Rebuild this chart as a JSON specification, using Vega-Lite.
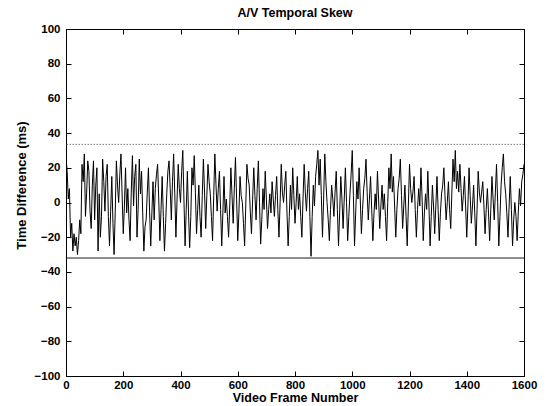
{
  "$schema": "https://vega.github.io/schema/vega-lite/v6.json",
  "width": 458,
  "height": 347,
  "autosize": {"type": "none"},
  "padding": {"left": 66, "top": 29, "right": 30, "bottom": 30},
  "background": "white",
  "title": {"text": "A/V Temporal Skew", "fontSize": 12.5, "fontWeight": "bold", "font": "Liberation Sans", "color": "black", "offset": 4},
  "config": {
    "view": {"stroke": "black", "strokeWidth": 1},
    "axis": {"domainColor": "black", "tickColor": "black", "labelColor": "black", "titleColor": "black", "grid": false,
      "labelFont": "Liberation Sans", "labelFontSize": 11.5, "labelFontWeight": "bold",
      "titleFont": "Liberation Sans", "titleFontSize": 13, "titleFontWeight": "bold", "tickSize": -5}
  },
  "resolve": {"axis": {"x": "independent", "y": "independent"}},
  "datasets": {
    "skew": [
      {"frame":0,"value":26},{"frame":4,"value":18},{"frame":8,"value":2},{"frame":12,"value":8},{"frame":16,"value":-20},{"frame":20,"value":-12},{"frame":24,"value":-28},{"frame":28,"value":-18},{"frame":32,"value":-25},{"frame":36,"value":-20},{"frame":40,"value":-30},{"frame":44,"value":-22},{"frame":48,"value":-10},{"frame":52,"value":-18},{"frame":56,"value":22},{"frame":60,"value":12},{"frame":64,"value":28},{"frame":68,"value":-8},{"frame":72,"value":5},{"frame":76,"value":24},{"frame":80,"value":18},{"frame":84,"value":-5},{"frame":88,"value":-15},{"frame":92,"value":10},{"frame":96,"value":24},{"frame":100,"value":-10},{"frame":104,"value":10},{"frame":108,"value":20},{"frame":112,"value":-28},{"frame":116,"value":5},{"frame":120,"value":-20},{"frame":124,"value":-8},{"frame":128,"value":25},{"frame":132,"value":12},{"frame":136,"value":-5},{"frame":140,"value":15},{"frame":144,"value":22},{"frame":148,"value":-8},{"frame":152,"value":-25},{"frame":156,"value":-5},{"frame":160,"value":15},{"frame":164,"value":-12},{"frame":168,"value":-30},{"frame":172,"value":-5},{"frame":176,"value":24},{"frame":180,"value":10},{"frame":184,"value":0},{"frame":188,"value":16},{"frame":192,"value":28},{"frame":196,"value":5},{"frame":200,"value":-18},{"frame":204,"value":-2},{"frame":208,"value":20},{"frame":212,"value":-6},{"frame":216,"value":8},{"frame":220,"value":-10},{"frame":224,"value":-22},{"frame":228,"value":6},{"frame":232,"value":27},{"frame":236,"value":-2},{"frame":240,"value":15},{"frame":244,"value":22},{"frame":248,"value":-20},{"frame":252,"value":-4},{"frame":256,"value":25},{"frame":260,"value":5},{"frame":264,"value":18},{"frame":268,"value":-6},{"frame":272,"value":-28},{"frame":276,"value":-14},{"frame":280,"value":-10},{"frame":284,"value":6},{"frame":288,"value":20},{"frame":292,"value":-5},{"frame":296,"value":-25},{"frame":300,"value":-6},{"frame":304,"value":12},{"frame":308,"value":-10},{"frame":312,"value":8},{"frame":316,"value":16},{"frame":320,"value":22},
      {"frame":324,"value":2},{"frame":328,"value":-22},{"frame":332,"value":-4},{"frame":336,"value":15},{"frame":340,"value":-8},{"frame":344,"value":-28},{"frame":348,"value":-12},{"frame":352,"value":5},{"frame":356,"value":18},{"frame":360,"value":24},{"frame":364,"value":8},{"frame":368,"value":-10},{"frame":372,"value":12},{"frame":376,"value":28},{"frame":380,"value":5},{"frame":384,"value":-20},{"frame":388,"value":2},{"frame":392,"value":22},{"frame":396,"value":8},{"frame":400,"value":0},{"frame":404,"value":18},{"frame":408,"value":30},{"frame":412,"value":2},{"frame":416,"value":-25},{"frame":420,"value":-4},{"frame":424,"value":18},{"frame":428,"value":-6},{"frame":432,"value":-26},{"frame":436,"value":-8},{"frame":440,"value":20},{"frame":444,"value":10},{"frame":448,"value":27},{"frame":452,"value":6},{"frame":456,"value":-18},{"frame":460,"value":-4},{"frame":464,"value":10},{"frame":468,"value":-8},{"frame":472,"value":-20},{"frame":476,"value":4},{"frame":480,"value":25},{"frame":484,"value":6},{"frame":488,"value":-15},{"frame":492,"value":4},{"frame":496,"value":22},{"frame":500,"value":12},{"frame":504,"value":5},{"frame":508,"value":-8},{"frame":512,"value":-22},{"frame":516,"value":4},{"frame":520,"value":28},{"frame":524,"value":10},{"frame":528,"value":-5},{"frame":532,"value":8},{"frame":536,"value":18},{"frame":540,"value":-4},{"frame":544,"value":-25},{"frame":548,"value":-6},{"frame":552,"value":15},{"frame":556,"value":-6},{"frame":560,"value":2},{"frame":564,"value":-8},{"frame":568,"value":-20},{"frame":572,"value":-2},{"frame":576,"value":20},{"frame":580,"value":4},{"frame":584,"value":-12},{"frame":588,"value":8},{"frame":592,"value":26},{"frame":596,"value":2},{"frame":600,"value":-22},{"frame":604,"value":-6},{"frame":608,"value":15},{"frame":612,"value":4},{"frame":616,"value":0},{"frame":620,"value":-12},{"frame":624,"value":-25},{"frame":628,"value":-2},{"frame":632,"value":22},{"frame":636,"value":14},{"frame":640,"value":10},
      {"frame":644,"value":-6},{"frame":648,"value":-18},{"frame":652,"value":2},{"frame":656,"value":20},{"frame":660,"value":4},{"frame":664,"value":-10},{"frame":668,"value":8},{"frame":672,"value":24},{"frame":676,"value":0},{"frame":680,"value":-24},{"frame":684,"value":-10},{"frame":688,"value":8},{"frame":692,"value":-4},{"frame":696,"value":18},{"frame":700,"value":2},{"frame":704,"value":-15},{"frame":708,"value":-4},{"frame":712,"value":5},{"frame":716,"value":-6},{"frame":720,"value":12},{"frame":724,"value":2},{"frame":728,"value":-8},{"frame":732,"value":4},{"frame":736,"value":15},{"frame":740,"value":-4},{"frame":744,"value":-20},{"frame":748,"value":0},{"frame":752,"value":22},{"frame":756,"value":6},{"frame":760,"value":0},{"frame":764,"value":10},{"frame":768,"value":18},{"frame":772,"value":-6},{"frame":776,"value":-25},{"frame":780,"value":-8},{"frame":784,"value":10},{"frame":788,"value":-4},{"frame":792,"value":20},{"frame":796,"value":4},{"frame":800,"value":-12},{"frame":804,"value":0},{"frame":808,"value":15},{"frame":812,"value":-4},{"frame":816,"value":5},{"frame":820,"value":-8},{"frame":824,"value":-20},{"frame":828,"value":2},{"frame":832,"value":22},{"frame":836,"value":6},{"frame":840,"value":-5},{"frame":844,"value":8},{"frame":848,"value":18},{"frame":852,"value":-8},{"frame":856,"value":-31},{"frame":860,"value":-8},{"frame":864,"value":10},{"frame":868,"value":-2},{"frame":872,"value":15},{"frame":876,"value":22},{"frame":880,"value":30},{"frame":884,"value":10},{"frame":888,"value":25},{"frame":892,"value":4},{"frame":896,"value":-20},{"frame":900,"value":2},{"frame":904,"value":28},{"frame":908,"value":12},{"frame":912,"value":0},{"frame":916,"value":-10},{"frame":920,"value":-22},{"frame":924,"value":-4},{"frame":928,"value":10},{"frame":932,"value":2},{"frame":936,"value":-8},{"frame":940,"value":6},{"frame":944,"value":18},{"frame":948,"value":-4},{"frame":952,"value":-25},{"frame":956,"value":-6},{"frame":960,"value":15},
      {"frame":964,"value":2},{"frame":968,"value":-15},{"frame":972,"value":2},{"frame":976,"value":20},{"frame":980,"value":0},{"frame":984,"value":-22},{"frame":988,"value":-8},{"frame":992,"value":5},{"frame":996,"value":16},{"frame":1000,"value":30},{"frame":1004,"value":4},{"frame":1008,"value":-25},{"frame":1012,"value":-6},{"frame":1016,"value":12},{"frame":1020,"value":2},{"frame":1024,"value":20},{"frame":1028,"value":2},{"frame":1032,"value":-18},{"frame":1036,"value":-4},{"frame":1040,"value":8},{"frame":1044,"value":14},{"frame":1048,"value":25},{"frame":1052,"value":6},{"frame":1056,"value":-10},{"frame":1060,"value":2},{"frame":1064,"value":15},{"frame":1068,"value":-4},{"frame":1072,"value":-22},{"frame":1076,"value":-6},{"frame":1080,"value":5},{"frame":1084,"value":-4},{"frame":1088,"value":18},{"frame":1092,"value":2},{"frame":1096,"value":-15},{"frame":1100,"value":-2},{"frame":1104,"value":10},{"frame":1108,"value":-4},{"frame":1112,"value":5},{"frame":1116,"value":-8},{"frame":1120,"value":-22},{"frame":1124,"value":0},{"frame":1128,"value":20},{"frame":1132,"value":8},{"frame":1136,"value":28},{"frame":1140,"value":6},{"frame":1144,"value":15},{"frame":1148,"value":-2},{"frame":1152,"value":-20},{"frame":1156,"value":-4},{"frame":1160,"value":8},{"frame":1164,"value":14},{"frame":1168,"value":25},{"frame":1172,"value":4},{"frame":1176,"value":-15},{"frame":1180,"value":-2},{"frame":1184,"value":10},{"frame":1188,"value":-8},{"frame":1192,"value":-25},{"frame":1196,"value":-2},{"frame":1200,"value":22},{"frame":1204,"value":8},{"frame":1208,"value":0},{"frame":1212,"value":6},{"frame":1216,"value":15},{"frame":1220,"value":-4},{"frame":1224,"value":-20},{"frame":1228,"value":-4},{"frame":1232,"value":8},{"frame":1236,"value":-2},{"frame":1240,"value":20},{"frame":1244,"value":2},{"frame":1248,"value":-22},{"frame":1252,"value":-6},{"frame":1256,"value":5},{"frame":1260,"value":-4},{"frame":1264,"value":18},{"frame":1268,"value":-2},{"frame":1272,"value":-25},{"frame":1276,"value":-8},{"frame":1280,"value":10},
      {"frame":1284,"value":-2},{"frame":1288,"value":-18},{"frame":1292,"value":-2},{"frame":1296,"value":15},{"frame":1300,"value":-4},{"frame":1304,"value":-22},{"frame":1308,"value":-6},{"frame":1312,"value":5},{"frame":1316,"value":10},{"frame":1320,"value":20},{"frame":1324,"value":4},{"frame":1328,"value":-10},{"frame":1332,"value":0},{"frame":1336,"value":12},{"frame":1340,"value":-4},{"frame":1344,"value":-15},{"frame":1348,"value":6},{"frame":1352,"value":25},{"frame":1356,"value":12},{"frame":1360,"value":30},{"frame":1364,"value":8},{"frame":1368,"value":18},{"frame":1372,"value":6},{"frame":1376,"value":22},{"frame":1380,"value":8},{"frame":1384,"value":-5},{"frame":1388,"value":4},{"frame":1392,"value":15},{"frame":1396,"value":-2},{"frame":1400,"value":-20},{"frame":1404,"value":-2},{"frame":1408,"value":20},{"frame":1412,"value":4},{"frame":1416,"value":-12},{"frame":1420,"value":-2},{"frame":1424,"value":10},{"frame":1428,"value":-6},{"frame":1432,"value":-25},{"frame":1436,"value":-4},{"frame":1440,"value":18},{"frame":1444,"value":6},{"frame":1448,"value":0},{"frame":1452,"value":6},{"frame":1456,"value":12},{"frame":1460,"value":-2},{"frame":1464,"value":-18},{"frame":1468,"value":-4},{"frame":1472,"value":8},{"frame":1476,"value":-6},{"frame":1480,"value":-22},{"frame":1484,"value":-4},{"frame":1488,"value":15},{"frame":1492,"value":2},{"frame":1496,"value":-10},{"frame":1500,"value":6},{"frame":1504,"value":22},{"frame":1508,"value":0},{"frame":1512,"value":-25},{"frame":1516,"value":-8},{"frame":1520,"value":10},{"frame":1524,"value":20},{"frame":1528,"value":28},{"frame":1532,"value":12},{"frame":1536,"value":5},{"frame":1540,"value":-6},{"frame":1544,"value":-20},{"frame":1548,"value":-2},{"frame":1552,"value":15},{"frame":1556,"value":-4},{"frame":1560,"value":-25},{"frame":1564,"value":-10},{"frame":1568,"value":0},{"frame":1572,"value":-8},{"frame":1576,"value":-22},{"frame":1580,"value":-6},{"frame":1584,"value":8},{"frame":1588,"value":-2},{"frame":1592,"value":12},{"frame":1596,"value":16},{"frame":1600,"value":22}
    ],
    "limits": [{"kind": "upper", "limit": 33.5}, {"kind": "lower", "limit": -32}]
  },
  "layer": [
    {
      "data": {"name": "skew"},
      "mark": {"type": "line", "color": "black", "strokeWidth": 1, "clip": true},
      "encoding": {
        "x": {"field": "frame", "type": "quantitative", "scale": {"domain": [0, 1600], "nice": false},
          "axis": {"orient": "bottom", "values": [0,200,400,600,800,1000,1200,1400,1600], "format": "d", "labelPadding": 8, "title": "Video Frame Number", "titleFontSize": 12.5, "titleY": 15, "titleBaseline": "top", "labelFlush": false}},
        "y": {"field": "value", "type": "quantitative", "scale": {"domain": [-100, 100], "nice": false},
          "axis": {"orient": "left", "values": [-100,-80,-60,-40,-20,0,20,40,60,80,100], "labelPadding": 11, "title": "Time Difference (ms)", "titleX": -38, "titleY": 156, "labelFlush": false}}
      }
    },
    {
      "data": {"name": "limits"},
      "transform": [{"filter": "datum.kind === 'upper'"}],
      "mark": {"type": "rule", "color": "#555555", "strokeWidth": 0.8, "strokeDash": [1.5, 1.5]},
      "encoding": {"y": {"field": "limit", "type": "quantitative", "axis": null}}
    },
    {
      "data": {"name": "limits"},
      "transform": [{"filter": "datum.kind === 'lower'"}],
      "mark": {"type": "rule", "color": "black", "strokeWidth": 0.9},
      "encoding": {"y": {"field": "limit", "type": "quantitative", "axis": null}}
    },
    {
      "data": {"values": [{"frame": 0, "value": 0}]},
      "mark": {"type": "point", "opacity": 0},
      "encoding": {
        "x": {"field": "frame", "type": "quantitative", "axis": {"orient": "top", "values": [0,200,400,600,800,1000,1200,1400,1600], "labels": false, "title": null}},
        "y": {"field": "value", "type": "quantitative", "axis": {"orient": "right", "values": [-100,-80,-60,-40,-20,0,20,40,60,80,100], "labels": false, "title": null}}
      }
    }
  ]
}
